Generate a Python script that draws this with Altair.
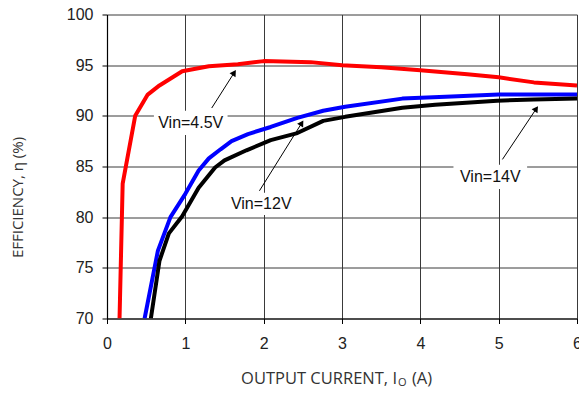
import altair as alt
import pandas as pd

# ---- data ----
red_x = [0.16, 0.20, 0.36, 0.52, 0.67, 0.96, 1.30, 1.67, 2.00, 2.60, 3.00, 3.50, 4.00, 4.60, 5.00, 5.45, 6.00]
red_y = [70.0, 83.3, 90.0, 92.1, 93.0, 94.4, 94.9, 95.1, 95.4, 95.3, 95.0, 94.8, 94.5, 94.1, 93.8, 93.3, 93.0]

blue_x = [0.48, 0.65, 0.81, 1.00, 1.17, 1.30, 1.45, 1.59, 1.80, 2.09, 2.43, 2.76, 3.04, 3.77, 4.40, 5.00, 6.00]
blue_y = [70.0, 76.7, 80.0, 82.3, 84.6, 85.8, 86.7, 87.5, 88.2, 88.9, 89.8, 90.5, 90.9, 91.7, 91.9, 92.1, 92.1]

black_x = [0.56, 0.67, 0.79, 0.96, 1.17, 1.38, 1.50, 1.78, 2.09, 2.43, 2.76, 3.04, 3.77, 4.19, 4.98, 5.45, 6.00]
black_y = [70.0, 75.7, 78.4, 80.1, 82.9, 84.9, 85.6, 86.6, 87.6, 88.3, 89.5, 89.9, 90.8, 91.1, 91.5, 91.6, 91.7]

series_names = ["Vin=4.5V", "Vin=12V", "Vin=14V"]
series_colors = ["#ff0000", "#0000ff", "#000000"]

x_ticks = [0, 1, 2, 3, 4, 5, 6]
y_ticks = [70, 75, 80, 85, 90, 95, 100]

# annotation labels (data units)
lab_text = ["Vin=4.5V", "Vin=12V", "Vin=14V"]
lab_x = [1.069, 1.969, 4.893]
lab_y = [89.31, 81.32, 83.97]
lab_halfw = [0.47, 0.43, 0.47]
lab_halfh = [1.2, 1.1, 1.2]

# arrows: tail -> head (data units), head angle in degrees
arr_x = [1.337, 1.946, 5.048]
arr_y = [90.77, 82.60, 85.70]
arr_x2 = [1.624, 2.486, 5.480]
arr_y2 = [94.26, 89.29, 90.70]
arr_ang = [33, 32, 34]

# ---- tables ----
rows = []
for name, xs_, ys_ in zip(series_names, [red_x, blue_x, black_x], [red_y, blue_y, black_y]):
    for i, (a, b) in enumerate(zip(xs_, ys_)):
        rows.append({"series": name, "x": a, "y": b, "o": i})
df = pd.DataFrame(rows)

ann = pd.DataFrame({
    "t": lab_text, "x": lab_x, "y": lab_y,
    "x0": [a - w for a, w in zip(lab_x, lab_halfw)],
    "x1": [a + w for a, w in zip(lab_x, lab_halfw)],
    "y0": [a - h for a, h in zip(lab_y, lab_halfh)],
    "y1": [a + h for a, h in zip(lab_y, lab_halfh)],
})
arr = pd.DataFrame({"x": arr_x, "y": arr_y, "x2": arr_x2, "y2": arr_y2, "a": arr_ang})

xs = alt.Scale(domain=[0, 6], nice=False, zero=False)
ys = alt.Scale(domain=[70, 100], nice=False, zero=False)

axis_common = dict(
    grid=True, gridColor="#3a3a3a", gridWidth=1, gridOpacity=1,
    domainColor="#000000", domainWidth=1.2, tickColor="#000000", tickSize=5,
    labelFont="Liberation Sans", labelFontSize=16, labelColor="#222222",
    title=None, labelOverlap=False, labelFlush=False, format="d",
)

lines = alt.Chart(df).mark_line(strokeWidth=4, clip=True, strokeJoin="round").encode(
    x=alt.X("x:Q", scale=xs, axis=alt.Axis(values=x_ticks, labelPadding=12, **axis_common)),
    y=alt.Y("y:Q", scale=ys, axis=alt.Axis(values=y_ticks, labelPadding=9, **axis_common)),
    color=alt.Color("series:N", scale=alt.Scale(domain=series_names, range=series_colors), legend=None),
    detail="series:N",
    order="o:Q",
)

boxes = alt.Chart(ann).mark_rect(color="white", opacity=1).encode(
    x=alt.X("x0:Q", scale=xs), x2="x1:Q",
    y=alt.Y("y0:Q", scale=ys), y2="y1:Q",
)

labels = alt.Chart(ann).mark_text(font="Liberation Sans", fontSize=16, color="#111111").encode(
    x=alt.X("x:Q", scale=xs), y=alt.Y("y:Q", scale=ys), text="t:N",
)

rules = alt.Chart(arr).mark_rule(color="black", strokeWidth=1).encode(
    x=alt.X("x:Q", scale=xs), y=alt.Y("y:Q", scale=ys), x2="x2:Q", y2="y2:Q",
)

heads = alt.Chart(arr).mark_point(shape="triangle-up", filled=True, size=50, color="black", opacity=1).encode(
    x=alt.X("x2:Q", scale=xs), y=alt.Y("y2:Q", scale=ys), angle=alt.Angle("a:Q", scale=None),
)

title_font = "Open Sans"
xt1 = alt.Chart(pd.DataFrame({"t": ["OUTPUT CURRENT, I"]})).mark_text(
    font=title_font, fontSize=16.5, color="#333333", align="right", baseline="middle"
).encode(x=alt.value(290), y=alt.value(364.5), text="t:N")
xt2 = alt.Chart(pd.DataFrame({"t": ["O"]})).mark_text(
    font=title_font, fontSize=11, color="#333333", align="left", baseline="middle"
).encode(x=alt.value(291), y=alt.value(368.5), text="t:N")
xt3 = alt.Chart(pd.DataFrame({"t": ["(A)"]})).mark_text(
    font=title_font, fontSize=16.5, color="#333333", align="left", baseline="middle"
).encode(x=alt.value(305), y=alt.value(364.5), text="t:N")
yt = alt.Chart(pd.DataFrame({"t": ["EFFICIENCY, η  (%)"]})).mark_text(
    font=title_font, fontSize=15, color="#333333", angle=270, align="center", baseline="middle"
).encode(x=alt.value(-89), y=alt.value(183), text="t:N")

chart = alt.layer(lines, boxes, labels, rules, heads, xt1, xt2, xt3, yt).properties(
    width=470, height=304,
    padding={"left": 99, "top": 6.5, "right": 2, "bottom": 69.5},
    autosize=alt.AutoSizeParams(type="none"),
).configure_view(stroke=None)

chart.save("out.html", embed_options={"renderer": "svg", "actions": False})
